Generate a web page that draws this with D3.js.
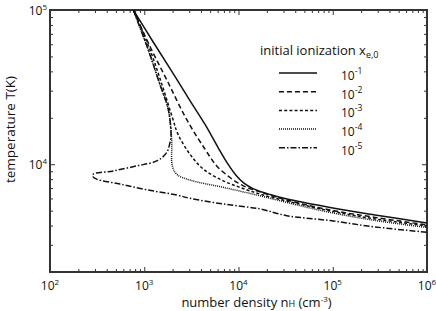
<!DOCTYPE html>
<html>
<head>
<meta charset="utf-8">
<script src="https://cdn.jsdelivr.net/npm/d3@7"></script>
<style>
  body { margin: 0; background: #fff; }
  text { font-family: "Open Sans", sans-serif; fill: #111; }
</style>
</head>
<body>
<div id="chart"></div>
<script>
// curves: [n_H (cm^-3), T (K)]
let xe1 = [[766,100000],[1239,62230],[1968,39810],[3055,25880],[4416,18110],[6053,12880],
           [7737,10000],[9400,8490],[11430,7540],[14250,6950],[21600,6360],[32730,5940],
           [93540,5240],[280500,4690],[1e6,4160]];
let xe2 = [[766,100000],[1151,57970],[1730,35330],[2818,19500],[4416,12500],[5875,9750],
           [8128,8200],[11250,7240],[16900,6620],[32430,5860],[93540,5050],[280500,4520],[1e6,4040]];
let xe3 = [[766,100000],[1151,55210],[1542,32810],[2018,19500],[2280,15630],[3055,11610],
           [4240,9290],[6900,7800],[10380,7080],[16900,6400],[32430,5770],[93540,4980],[280500,4420],[1e6,3980]];
let xe4 = [[766,100000],[1122,53580],[1469,32810],[1799,22650],[1954,14490],[1985,9750],
           [2210,8610],[3055,7890],[6900,7080],[16900,6240],[32430,5650],[93540,4870],[280500,4320],[1e6,3890]];
let xe5 = [[766,100000],[1122,53580],[1469,32810],[1799,22650],[1923,15250],[1877,13870],
           [1730,11890],[1355,10500],[832,9750],[470,9050],[288,8620],[284,8330],[313,8000],
           [553,7430],[1062,6830],[2210,6310],[3055,6010],[6900,5520],[16900,5130],[32430,4640],
           [93540,4310],[280500,3920],[1e6,3620]];

let seriesData = [xe1, xe2, xe3, xe4, xe5];
let legendExp = ["-1", "-2", "-3", "-4", "-5"];
let dashes = [null, "5,3", "3,2.2", "1,1", "6,2,1.5,2"];

let xMajor = [1e2, 1e3, 1e4, 1e5, 1e6];
let xMajorExp = ["2", "3", "4", "5", "6"];
let yMajor = [1e4, 1e5];
let yMajorExp = ["4", "5"];

let margin = {top: 10, right: 9, bottom: 39, left: 50},
    width = 436 - margin.left - margin.right,
    height = 311 - margin.top - margin.bottom;

let svg = d3.select("#chart")
    .append("svg")
        .attr("width", 436)
        .attr("height", 311)
    .append("g")
        .attr("transform", "translate(" + margin.left + "," + margin.top + ")");

let x = d3.scaleLog().domain([1e2, 1e6]).range([0, width]);
let y = d3.scaleLog().domain([2000, 1e5]).range([height, 0]);

// minor ticks 2..9 in each decade
let xMinor = [];
for (let d = 2; d < 6; d++) for (let k = 2; k < 10; k++) xMinor.push(k * Math.pow(10, d));
let yMinor = [];
for (let d = 3; d < 5; d++) for (let k = 2; k < 10; k++) if (k * Math.pow(10, d) > 2000) yMinor.push(k * Math.pow(10, d));

let axes = [
    [function() { return d3.axisBottom(x); }, "translate(0," + height + ")", xMinor, xMajor],
    [function() { return d3.axisTop(x); }, "translate(0,0)", xMinor, xMajor],
    [function() { return d3.axisLeft(y); }, "translate(0,0)", yMinor, yMajor],
    [function() { return d3.axisRight(y); }, "translate(" + width + ",0)", yMinor, yMajor]
];
axes.forEach(function(a) {
    svg.append("g").attr("transform", a[1])
        .call(a[0]().tickValues(a[2]).tickSize(-3).tickFormat(""));
    svg.append("g").attr("transform", a[1])
        .call(a[0]().tickValues(a[3]).tickSize(-5).tickFormat(""));
});
svg.selectAll(".domain").remove();
svg.selectAll(".tick line").attr("stroke", "#333").attr("stroke-width", 1);

// frame
svg.append("rect")
    .attr("width", width).attr("height", height)
    .attr("fill", "none").attr("stroke", "#333").attr("stroke-width", 2);

// tick labels
xMajor.forEach(function(v, i) {
    let t = svg.append("text")
        .attr("x", x(v)).attr("y", height + 18)
        .attr("text-anchor", "middle").style("font-size", "12px");
    t.append("tspan").text("10");
    t.append("tspan").attr("dy", -5).style("font-size", "8px").text(xMajorExp[i]);
});
yMajor.forEach(function(v, i) {
    let t = svg.append("text")
        .attr("x", -3).attr("y", y(v) + 5)
        .attr("text-anchor", "end").style("font-size", "12px");
    t.append("tspan").text("10");
    t.append("tspan").attr("dy", -5).style("font-size", "8px").text(yMajorExp[i]);
});

// axis titles
let xt = svg.append("text")
    .attr("x", width / 2 + 18).attr("y", height + 35)
    .attr("text-anchor", "middle").style("font-size", "13px");
xt.append("tspan").text("number density  n");
xt.append("tspan").style("font-size", "9px").text("H");
xt.append("tspan").text(" (cm");
xt.append("tspan").attr("dy", -5).style("font-size", "8px").text("-3");
xt.append("tspan").attr("dy", 5).text(")");

svg.append("text")
    .attr("transform", "translate(-35,119.5) rotate(-90)")
    .attr("text-anchor", "middle").style("font-size", "13.5px")
    .text("temperature  T(K)");

// curves
let line = d3.line()
    .x(function(d) { return x(d[0]); })
    .y(function(d) { return y(d[1]); })
    .curve(d3.curveCatmullRom.alpha(0.5));

svg.append("clipPath").attr("id", "clip")
    .append("rect").attr("width", width).attr("height", height);

svg.append("g").attr("clip-path", "url(#clip)")
    .selectAll("path")
    .data(seriesData)
    .enter()
    .append("path")
        .attr("d", line)
        .attr("fill", "none")
        .attr("stroke", "#111")
        .attr("stroke-width", 1.5)
        .attr("stroke-dasharray", function(d, i) { return dashes[i]; });

// legend
let lg = svg.append("g").attr("transform", "translate(210,40)");
let lt = lg.append("text").attr("x", 0).attr("y", 5).style("font-size", "13px");
lt.append("tspan").text("initial ionization x");
lt.append("tspan").attr("dy", 3).style("font-size", "9px").text("e,0");

legendExp.forEach(function(e, i) {
    let yy = 23 + i * 18.7;
    lg.append("line")
        .attr("x1", 19).attr("x2", 57).attr("y1", yy).attr("y2", yy)
        .attr("stroke", "#111").attr("stroke-width", 1.5)
        .attr("stroke-dasharray", dashes[i]);
    let t = lg.append("text").attr("x", 81).attr("y", yy + 7).style("font-size", "12px");
    t.append("tspan").text("10");
    t.append("tspan").attr("dy", -6).style("font-size", "8.5px").text(e);
});
</script>
</body>
</html>
